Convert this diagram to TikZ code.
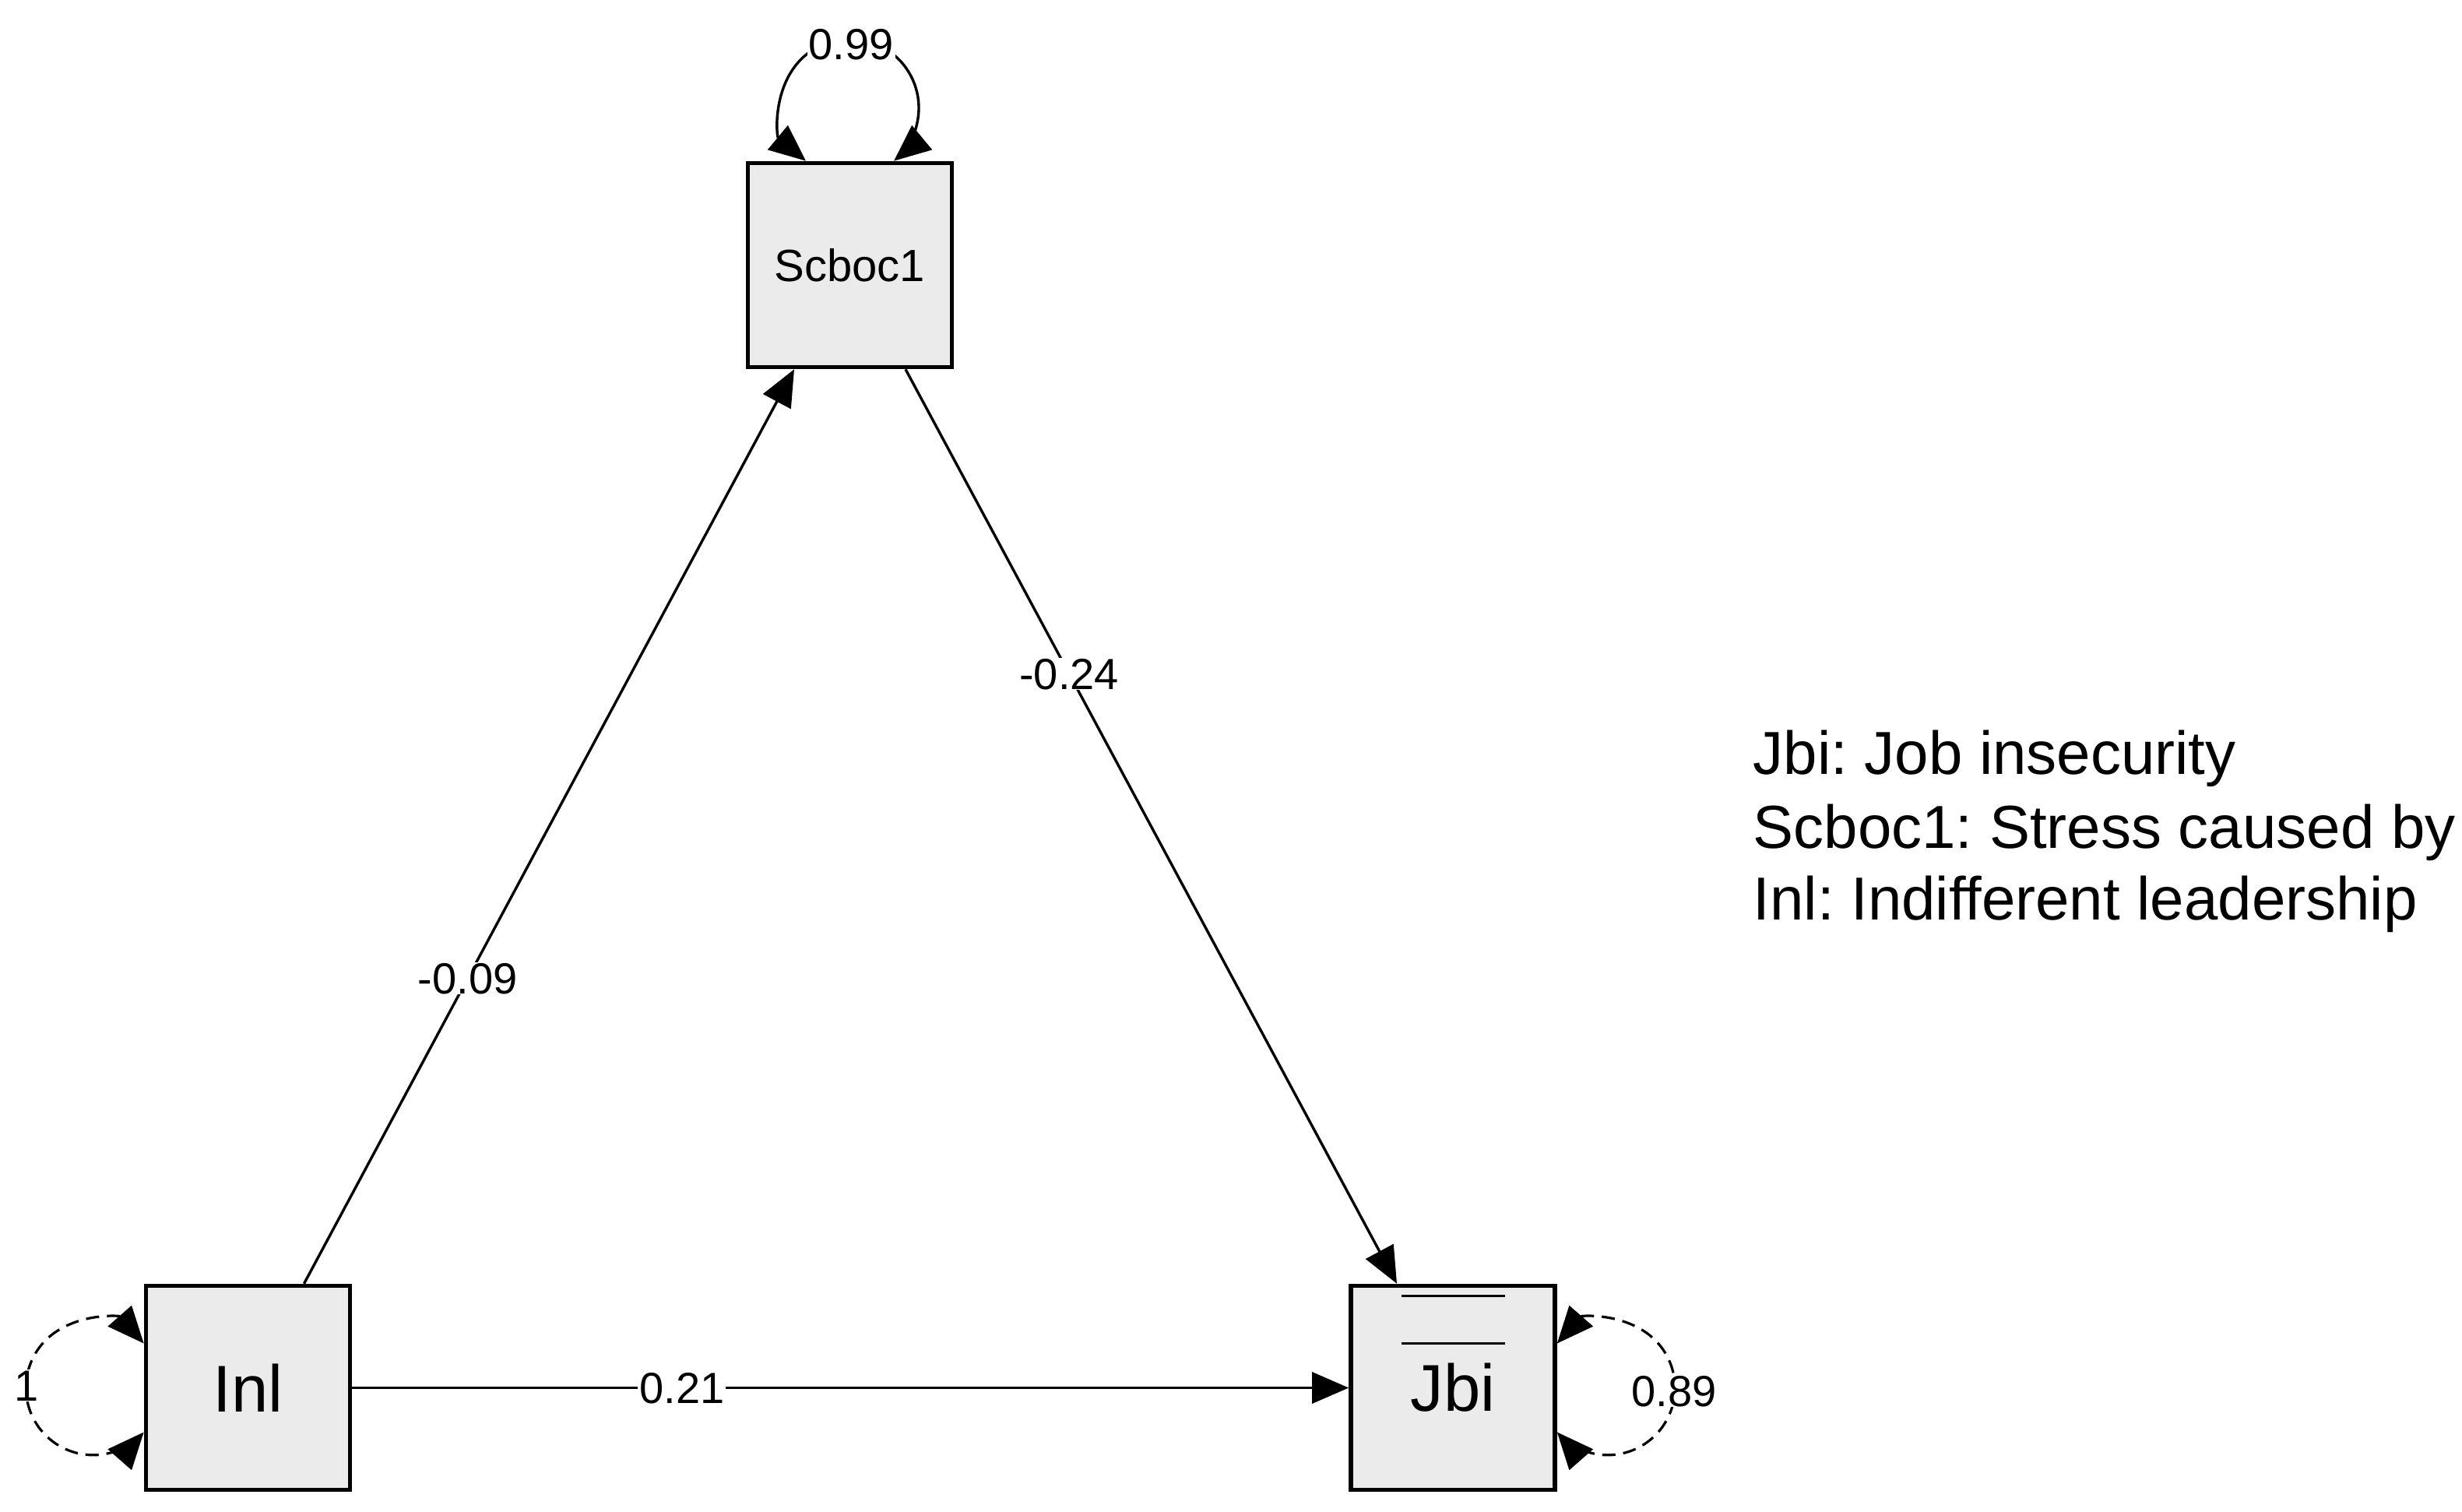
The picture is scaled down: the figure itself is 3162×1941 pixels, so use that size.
\documentclass[tikz,border=0pt]{standalone}
\usepackage{fontspec}
\newfontfamily\arialf{Liberation Sans}
\usetikzlibrary{arrows.meta,calc}
\definecolor{boxfill}{RGB}{235,235,235}
\frenchspacing
\tikzset{
  semtip/.tip={Triangle[length=11.75pt,width=10pt]},
  var/.style={draw, line width=1.4pt, fill=boxfill, minimum width=65.5pt, minimum height=65.5pt,
    inner sep=0pt, font=\arialf\fontsize{21.25pt}{25pt}\selectfont},
  varsmall/.style={var, font=\arialf\fontsize{14.5pt}{17pt}\selectfont},
  regpath/.style={line width=0.85pt, -semtip},
  regloop/.style={line width=0.85pt, semtip-semtip},
  dashloop/.style={line width=0.8pt, dash pattern=on 4.25pt off 2.5pt, semtip-semtip},
  elabel/.style={fill=white, inner xsep=0.5pt, inner ysep=0pt, text height=10.1pt, text depth=0pt,
    font=\arialf\fontsize{14pt}{17pt}\selectfont},
  barline/.style={line width=0.75pt},
  legend/.style={anchor=base west, inner sep=0pt, font=\arialf\fontsize{19.5pt}{23pt}\selectfont}
}
\begin{document}
\begin{tikzpicture}[x=0.25pt,y=0.25pt]
\fill[white] (0,0) rectangle (3162,1941);
\useasboundingbox (0,0) rectangle (3162,1941);

\node[varsmall] (sc) at (1091.5,1600.5) {Scboc1};
\node[var] (inl) at (318.5,158.5) {Inl};
\node[var] (jbi) at (1866,158.5) {Jbi};

\draw[barline] ($(jbi.center)+(-66.5,118.5)$) -- ($(jbi.center)+(66.5,118.5)$);
\draw[barline] ($(jbi.center)+(-66.5,57.5)$) -- ($(jbi.center)+(66.5,57.5)$);

\draw[regpath] ($(inl.north)+(72,0)$) -- node[elabel,pos=0.334] (e1) {-0.09} ($(sc.south)+(-71.5,0)$);
\draw[regpath] ($(sc.south)+(71.5,0)$) -- node[elabel,pos=0.333] (e2) {-0.24} ($(jbi.north)+(-72,0)$);
\draw[regpath] (inl.east) -- node[elabel,pos=0.331] (e3) {0.21} (jbi.west);

\draw[regloop] ($(sc.north)+(-56.5,0)$) arc[start angle=230.3, end angle=-50.3, radius=22.125pt];
\node[elabel] (l99) at ($(sc.north)+(1.5,150)$) {0.99};

\draw[dashloop] ($(inl.west)+(0,57)$) arc[start angle=41.25, end angle=318.75, radius=21.6pt];
\node[elabel] (l1) at ($(inl.west)+(-151,3)$) {1};

\draw[dashloop] ($(jbi.east)+(0,57)$) arc[start angle=138.75, end angle=-138.75, radius=21.6pt];
\node[elabel] (l89) at ($(jbi.east)+(150,-4)$) {0.89};

\node[legend] (lg1) at (2251,946) {Jbi: Job insecurity};
\node[legend] (lg2) at (2251,851) {Scboc1: Stress caused by};
\node[legend] (lg3) at (2251,759) {Inl: Indifferent leadership};
\end{tikzpicture}
\end{document}
